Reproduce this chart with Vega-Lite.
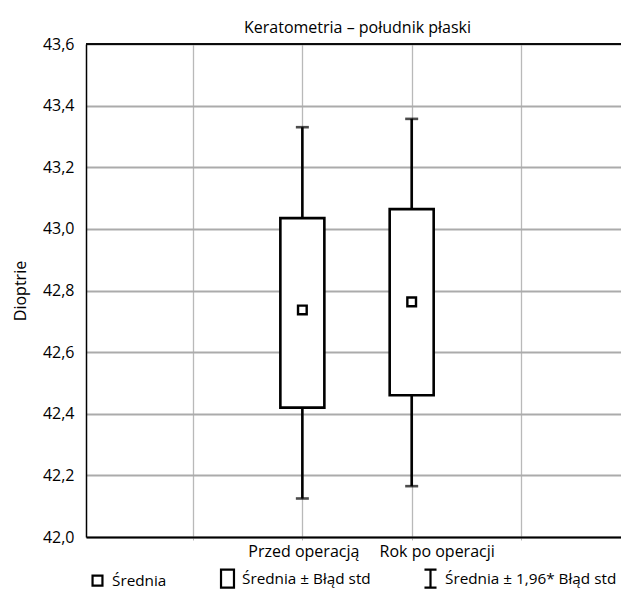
{
  "$schema": "https://vega.github.io/schema/vega-lite/v6.json",
  "width": 535,
  "height": 493,
  "padding": {"left": 12, "right": 0, "top": 20, "bottom": 0},
  "background": "white",
  "config": {
    "font": "Open Sans",
    "view": {"stroke": null},
    "axis": {"labelFont": "Open Sans", "titleFont": "Open Sans", "labelColor": "black", "titleColor": "black"}
  },
  "title": {
    "text": "Keratometria – południk płaski",
    "fontSize": 16,
    "fontWeight": "normal",
    "font": "Open Sans",
    "color": "black",
    "anchor": "middle",
    "offset": 0,
    "dx": 4
  },
  "datasets": {
    "stat": [
      {"grupa": "Przed operacją", "srednia": 42.737, "se_dol": 42.42, "se_gora": 43.035, "ci_dol": 42.125, "ci_gora": 43.33},
      {"grupa": "Rok po operacji", "srednia": 42.763, "se_dol": 42.46, "se_gora": 43.064, "ci_dol": 42.165, "ci_gora": 43.357}
    ],
    "legenda": [
      {"legenda": "Średnia"},
      {"legenda": "Średnia ± Błąd std"},
      {"legenda": "Średnia ± 1,96* Błąd std"}
    ]
  },
  "data": {"name": "stat"},
  "layer": [
    {
      "mark": {"type": "rule", "color": "black", "strokeWidth": 2.6},
      "encoding": {
        "x": {
          "field": "grupa",
          "type": "nominal",
          "scale": {"type": "point", "domain": ["_a", "Przed operacją", "Rok po operacji", "_b"], "padding": 0.947, "align": 0.517},
          "axis": {
            "title": null,
            "labelAngle": 0,
            "labelFontSize": 16,
            "labelPadding": 3,
            "labelExpr": "indexof(datum.label, '_') == 0 ? '' : datum.label",
            "labelOffset": {"condition": {"test": "datum.value == 'Rok po operacji'", "value": 25}, "value": 1},
            "grid": true,
            "gridColor": "#b9b9b9",
            "gridWidth": 1.3,
            "tickColor": "#b9b9b9",
            "tickSize": 3,
            "domainColor": "black",
            "domainWidth": 1.8
          }
        },
        "y": {
          "field": "ci_dol",
          "type": "quantitative",
          "scale": {"domain": [42.0, 43.6], "nice": false, "zero": false},
          "axis": {
            "title": "Dioptrie",
            "titleFontSize": 16,
            "titleFontWeight": "normal",
            "titlePadding": 14,
            "labelFontSize": 16,
            "labelPadding": 12,
            "values": [42.0, 42.2, 42.4, 42.6, 42.8, 43.0, 43.2, 43.4, 43.6],
            "labelExpr": "replace(format(datum.value, '.1f'), '.', ',')",
            "grid": true,
            "gridColor": "#ababab",
            "gridWidth": 2.2,
            "ticks": false,
            "domainColor": "black",
            "domainWidth": 1.5
          }
        },
        "y2": {"field": "ci_gora"}
      }
    },
    {
      "mark": {"type": "bar", "width": 44, "fill": "white", "stroke": "black", "strokeWidth": 2.6},
      "encoding": {
        "x": {"field": "grupa", "type": "nominal"},
        "y": {"field": "se_dol", "type": "quantitative"},
        "y2": {"field": "se_gora"}
      }
    },
    {
      "mark": {"type": "tick", "color": "black", "size": 13, "thickness": 2.6},
      "encoding": {
        "x": {"field": "grupa", "type": "nominal"},
        "y": {"field": "ci_gora", "type": "quantitative"}
      }
    },
    {
      "mark": {"type": "tick", "color": "black", "size": 13, "thickness": 2.6},
      "encoding": {
        "x": {"field": "grupa", "type": "nominal"},
        "y": {"field": "ci_dol", "type": "quantitative"}
      }
    },
    {
      "mark": {"type": "point", "shape": "square", "filled": false, "color": "black", "strokeWidth": 2.4, "size": 75, "opacity": 1},
      "encoding": {
        "x": {"field": "grupa", "type": "nominal"},
        "y": {"field": "srednia", "type": "quantitative"}
      }
    },
    {
      "mark": {"type": "rule", "color": "black", "strokeWidth": 1.6},
      "encoding": {"y": {"datum": 43.6, "type": "quantitative"}}
    },
    {
      "data": {"name": "legenda"},
      "mark": {"type": "point", "filled": false, "color": "black", "strokeWidth": 2, "opacity": 0},
      "encoding": {
        "x": {"value": 0},
        "y": {"value": 0},
        "shape": {
          "field": "legenda",
          "type": "nominal",
          "scale": {
            "domain": ["Średnia", "Średnia ± Błąd std", "Średnia ± 1,96* Błąd std"],
            "range": ["M-0.55,-0.55H0.55V0.55H-0.55Z", "M-0.72,-1H0.72V1H-0.72Z", "M-0.67,-1H0.67M0,-1V1M-0.67,1H0.67"]
          },
          "legend": {
            "title": null,
            "orient": "none",
            "legendX": 1,
            "legendY": 524,
            "direction": "horizontal",
            "symbolSize": 324,
            "symbolStrokeWidth": 2.2,
            "symbolStrokeColor": "black",
            "symbolFillColor": "white",
            "symbolOpacity": 1,
            "labelFontSize": 15.3,
            "labelFont": "Open Sans",
            "labelColor": "black",
            "labelOffset": 4,
            "columnPadding": 49,
            "labelLimit": 300,
            "encode": {"symbols": {"update": {"opacity": {"value": 1}, "stroke": {"value": "black"}, "fill": {"value": "white"}}}}
          }
        }
      }
    }
  ]
}
